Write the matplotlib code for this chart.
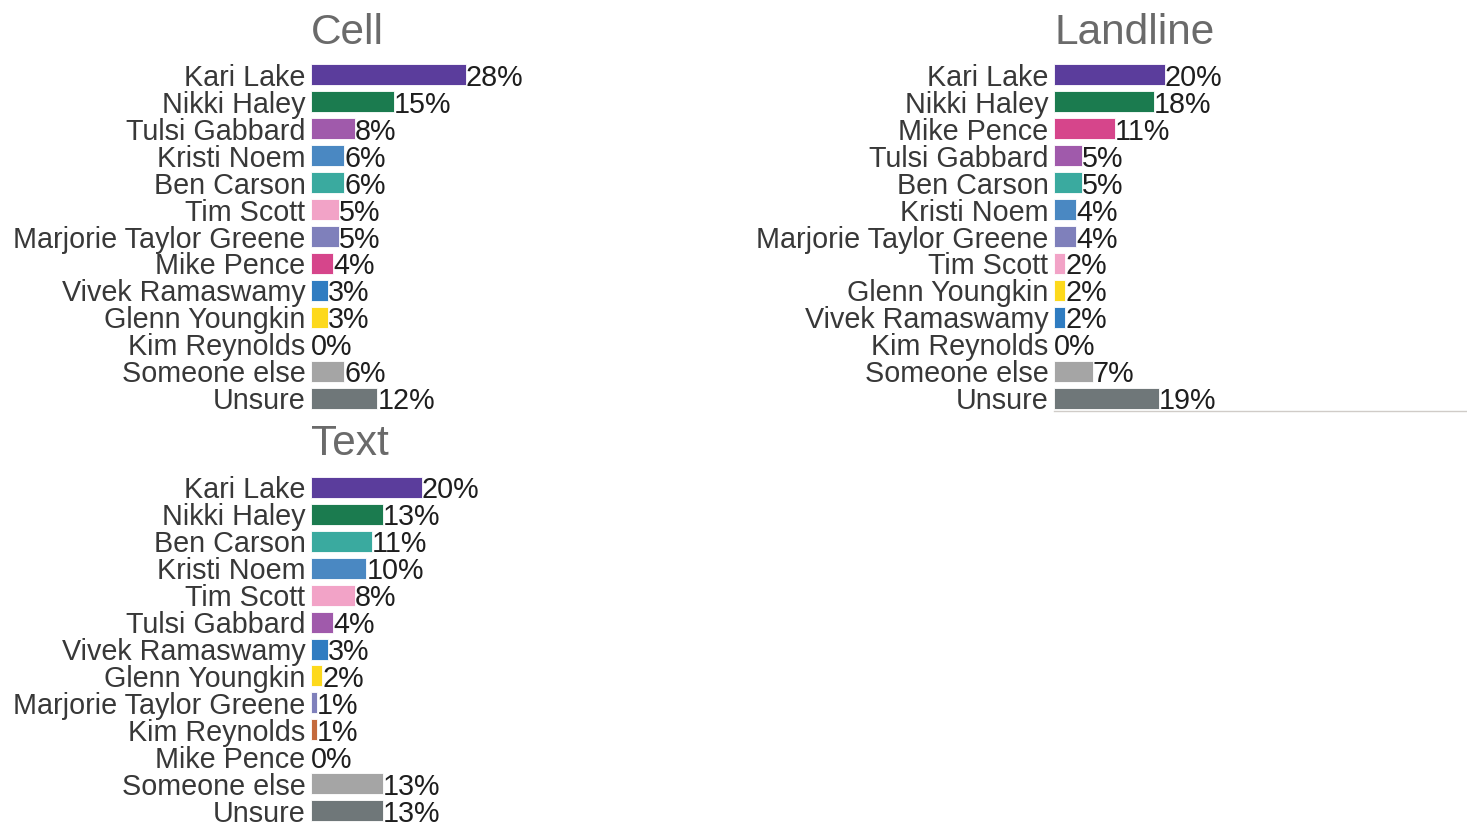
import matplotlib.pyplot as plt

plt.rcParams['font.family'] = ['Liberation Sans', 'DejaVu Sans']

COLORS = {
    "Kari Lake": "#5b3d9c",
    "Nikki Haley": "#1b7b4f",
    "Tulsi Gabbard": "#a05aab",
    "Kristi Noem": "#4a88c2",
    "Ben Carson": "#3aaa9f",
    "Tim Scott": "#f2a3c7",
    "Marjorie Taylor Greene": "#7f80bb",
    "Mike Pence": "#d6458b",
    "Vivek Ramaswamy": "#2f7cc1",
    "Glenn Youngkin": "#fdd91c",
    "Kim Reynolds": "#c4693b",
    "Someone else": "#a5a5a5",
    "Unsure": "#6f7779",
}

cell_names = ["Kari Lake", "Nikki Haley", "Tulsi Gabbard", "Kristi Noem", "Ben Carson",
              "Tim Scott", "Marjorie Taylor Greene", "Mike Pence", "Vivek Ramaswamy",
              "Glenn Youngkin", "Kim Reynolds", "Someone else", "Unsure"]
cell_values = [28, 15, 8, 6, 6, 5, 5, 4, 3, 3, 0, 6, 12]

landline_names = ["Kari Lake", "Nikki Haley", "Mike Pence", "Tulsi Gabbard", "Ben Carson",
                  "Kristi Noem", "Marjorie Taylor Greene", "Tim Scott", "Glenn Youngkin",
                  "Vivek Ramaswamy", "Kim Reynolds", "Someone else", "Unsure"]
landline_values = [20, 18, 11, 5, 5, 4, 4, 2, 2, 2, 0, 7, 19]

text_names = ["Kari Lake", "Nikki Haley", "Ben Carson", "Kristi Noem", "Tim Scott",
              "Tulsi Gabbard", "Vivek Ramaswamy", "Glenn Youngkin", "Marjorie Taylor Greene",
              "Kim Reynolds", "Mike Pence", "Someone else", "Unsure"]
text_values = [20, 13, 11, 10, 8, 4, 3, 2, 1, 1, 0, 13, 13]

W, H = 1467, 822
fig = plt.figure(figsize=(W / 100, H / 100), dpi=100)


def panel(left_px, top_px, title, title_y, names, values, show_spine=False):
    ax = fig.add_axes([left_px / W, 1 - (top_px + 350) / H, 413 / W, 350 / H])
    ypos = list(range(len(names)))
    ax.barh(ypos, values, height=0.78, color=[COLORS[n] for n in names],
            edgecolor="white", linewidth=0.6)
    ax.set_xlim(0, 413 / 5.53)
    ax.set_ylim(len(names) - 0.5, -0.5)
    ax.set_yticks(ypos)
    ax.set_yticklabels(names, fontsize=20.7, color="#383838")
    ax.tick_params(axis="y", length=0, pad=4)
    ax.set_xticks([])
    for s in ["top", "right", "left"]:
        ax.spines[s].set_visible(False)
    if show_spine:
        ax.spines["bottom"].set_color("#d0ccc8")
        ax.spines["bottom"].set_linewidth(1)
    else:
        ax.spines["bottom"].set_visible(False)
    for i, v in zip(ypos, values):
        ax.text(v, i, f"{v}%", fontsize=20.7, color="#1e1e1e", va="center_baseline", ha="left")
    fig.text(left_px / W, 1 - title_y / H, title, fontsize=30.5, color="#6a6a6a",
             ha="left", va="center")
    return ax


panel(311, 61.5, "Cell", 33, cell_names, cell_values)
panel(1054, 61.5, "Landline", 33, landline_names, landline_values, show_spine=True)
panel(311, 474.0, "Text", 444, text_names, text_values)

fig.savefig("out.png", dpi=100)
